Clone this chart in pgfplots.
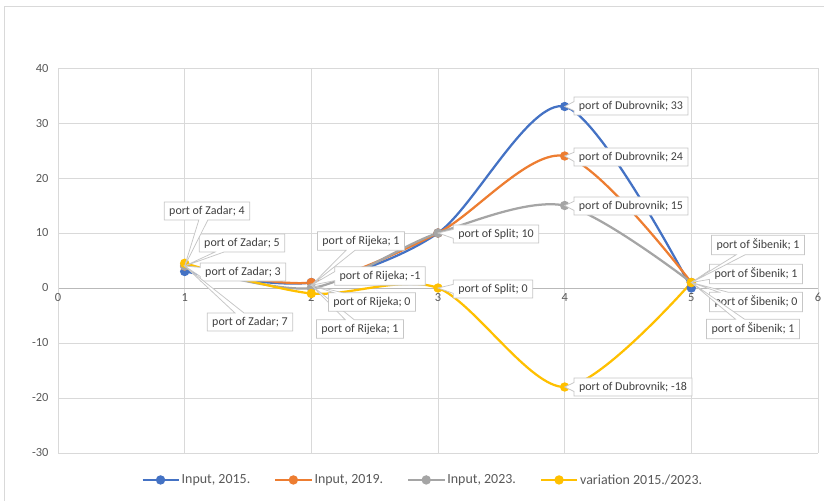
\documentclass[border=0pt]{standalone}
\usepackage{pgfplots}
\pgfplotsset{compat=1.18}
\usepackage{fontspec}
\setmainfont{Carlito}
\usetikzlibrary{shapes.callouts}
\definecolor{cBlue}{HTML}{4472C4}
\definecolor{cOrange}{HTML}{ED7D31}
\definecolor{cGray}{HTML}{A5A5A5}
\definecolor{cYellow}{HTML}{FFC000}
\definecolor{tickgray}{HTML}{595959}
\definecolor{labgray}{HTML}{404040}
\definecolor{gridgray}{HTML}{D9D9D9}

\begin{document}
\begin{tikzpicture}[
  lbl/.style={rectangle callout, draw=gray!45, fill=white, text=labgray,
    font=\fontsize{12}{14}\selectfont, inner xsep=5bp, inner ysep=4bp,
    callout pointer width=9bp, line width=0.75bp}]
\useasboundingbox (0,0) rectangle (824bp,501bp);
\draw[gridgray, line width=1bp] (4bp,494bp) rectangle (850bp,-20bp);
\begin{axis}[
  at={(58bp,48bp)}, anchor=south west,
  scale only axis, width=760bp, height=385bp,
  xmin=0, xmax=6, ymin=-30, ymax=40,
  xtick={0,1,2,3,4,5,6}, xticklabels={0,1,2,3,4,5,6},
  ytick={-30,-20,-10,0,10,20,30,40},
  yticklabels={-30,-20,-10,0,10,20,30,40},
  axis x line=middle, axis y line=left,
  hide obscured x ticks=false, hide obscured y ticks=false,
  x axis line style={draw=gray!55, -, line width=1bp},
  y axis line style={draw=gridgray, -},
  major tick length=0pt,
  grid=major, major grid style={draw=gridgray, line width=0.75bp},
  ticklabel style={font=\fontsize{12.5}{14}\selectfont, text=tickgray},
  yticklabel style={xshift=-6bp},
  xticklabel style={yshift=-2bp},
  clip=false,
  legend columns=4,
  legend style={draw=none, at={(0.48,-0.07)}, anchor=center,
    font=\fontsize{14}{16}\selectfont, text=tickgray,
    /tikz/every even column/.append style={column sep=22bp}},
  legend image code/.code={\draw[mark repeat=2, mark phase=2]
    plot coordinates {(0bp,0bp) (18bp,0bp) (36bp,0bp)};},
  every axis plot/.append style={smooth, line width=2.25bp, mark=*,
    mark size=3.5bp, mark options={solid}},
]
\addplot[cBlue, mark options={fill=cBlue}] coordinates {(1,3) (2,1) (3,10) (4,33) (5,0)};
\addplot[cOrange, mark options={fill=cOrange}] coordinates {(1,4) (2,1) (3,10) (4,24) (5,1)};
\addplot[cGray, mark options={fill=cGray}] coordinates {(1,4) (2,0) (3,10) (4,15) (5,1)};
\addplot[cYellow, mark options={fill=cYellow}] coordinates {(1,4.5) (2,-1) (3,0) (4,-18) (5,1)};
\legend{{Input, 2015.},{Input, 2019.},{Input, 2023.},{variation 2015./2023.}}
\coordinate (pZ) at (axis cs:1,4);
\coordinate (pR) at (axis cs:2,0.5);
\coordinate (pS1) at (axis cs:3,10);
\coordinate (pS0) at (axis cs:3,0);
\coordinate (pD1) at (axis cs:4,33);
\coordinate (pD2) at (axis cs:4,24);
\coordinate (pD3) at (axis cs:4,15);
\coordinate (pD4) at (axis cs:4,-18);
\coordinate (pB) at (axis cs:5,1);
\end{axis}
% data callouts
\node[lbl, callout absolute pointer={(pZ)}] at (243bp,229bp) {port of Zadar; 3};
\node[lbl, callout absolute pointer={(pZ)}] at (250bp,179bp) {port of Zadar; 7};
\node[lbl, callout absolute pointer={(pZ)}] at (242bp,258bp) {port of Zadar; 5};
\node[lbl, callout absolute pointer={(pZ)}] at (207bp,290bp) {port of Zadar; 4};
\node[lbl, callout absolute pointer={(pR)}] at (360bp,172bp) {port of Rijeka; 1};
\node[lbl, callout absolute pointer={(pR)}] at (372bp,199bp) {port of Rijeka; 0};
\node[lbl, callout absolute pointer={(pR)}] at (380bp,225bp) {port of Rijeka; -1};
\node[lbl, callout absolute pointer={(pR)}] at (361bp,260bp) {port of Rijeka; 1};
\node[lbl, callout absolute pointer={(pS1)}] at (496bp,267bp) {port of Split; 10};
\node[lbl, callout absolute pointer={(pS0)}] at (493bp,212bp) {port of Split; 0};
\node[lbl, callout absolute pointer={(pD1)}] at (631bp,395bp) {port of Dubrovnik; 33};
\node[lbl, callout absolute pointer={(pD2)}] at (631bp,344bp) {port of Dubrovnik; 24};
\node[lbl, callout absolute pointer={(pD3)}] at (631bp,295bp) {port of Dubrovnik; 15};
\node[lbl, callout absolute pointer={(pD4)}] at (633bp,114bp) {port of Dubrovnik; -18};
\node[lbl, callout absolute pointer={(pB)}] at (756bp,199bp) {port of Šibenik; 0};
\node[lbl, callout absolute pointer={(pB)}] at (753bp,172bp) {port of Šibenik; 1};
\node[lbl, callout absolute pointer={(pB)}] at (756bp,227bp) {port of Šibenik; 1};
\node[lbl, callout absolute pointer={(pB)}] at (758bp,256bp) {port of Šibenik; 1};
\end{tikzpicture}
\end{document}
